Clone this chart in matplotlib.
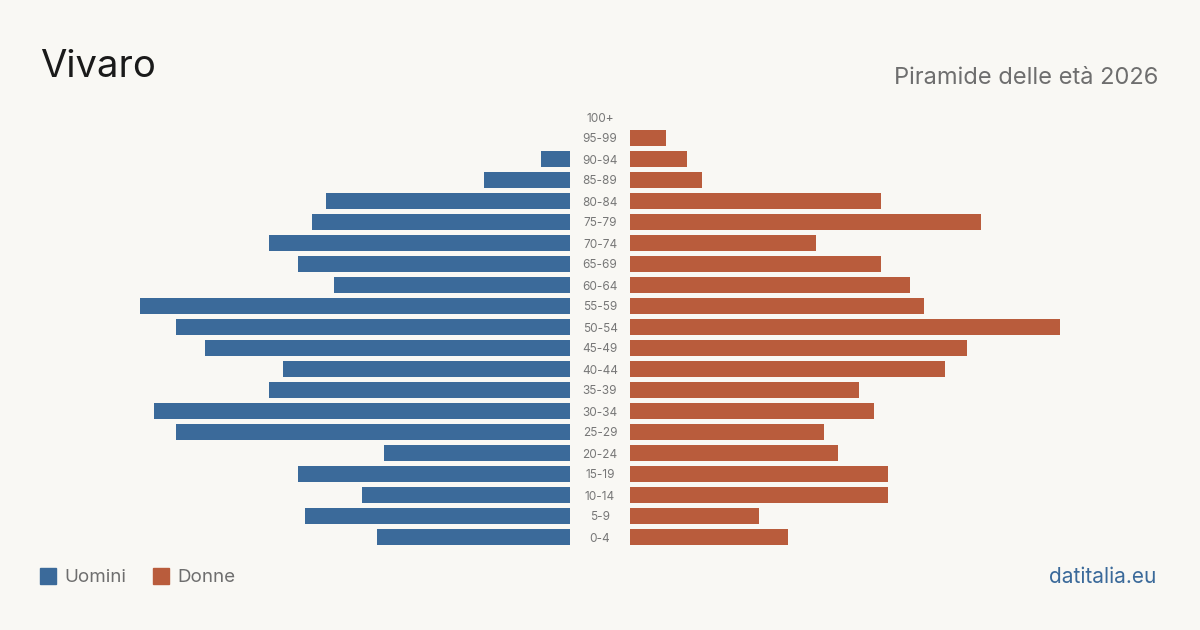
import matplotlib.pyplot as plt
import numpy as np

plt.rcParams['font.family'] = ['Inter', 'DejaVu Sans']

age_groups = ['0-4', '5-9', '10-14', '15-19', '20-24', '25-29', '30-34', '35-39',
              '40-44', '45-49', '50-54', '55-59', '60-64', '65-69', '70-74',
              '75-79', '80-84', '85-89', '90-94', '95-99', '100+']
men = [27, 37, 29, 38, 26, 55, 58, 42, 40, 51, 55, 60, 33, 38, 42, 36, 34, 12, 4, 0, 0]
women = [22, 18, 36, 36, 29, 27, 34, 32, 44, 47, 60, 41, 39, 35, 26, 49, 35, 10, 8, 5, 0]

bg = '#f9f8f4'
blue = '#3b6a9a'
orange = '#b95c3c'

fig = plt.figure(figsize=(12, 6.3), dpi=100, facecolor=bg)

bottom = 1 - 547.5 / 630
height = 0.7
ax_l = fig.add_axes([140 / 1200, bottom, 430 / 1200, height])
ax_r = fig.add_axes([630 / 1200, bottom, 430 / 1200, height])

xmax = max(max(men), max(women))
y = np.arange(len(age_groups))

ax_l.barh(y, men, height=0.8, color=blue)
ax_l.set_xlim(xmax, 0)
ax_r.barh(y, women, height=0.8, color=orange)
ax_r.set_xlim(0, xmax)

for ax in (ax_l, ax_r):
    ax.set_ylim(-0.5, len(age_groups) - 0.5)
    ax.set_facecolor('none')
    ax.axis('off')

for i, label in enumerate(age_groups):
    ax_l.annotate(label, xy=(0, i), xycoords='data', xytext=(30, -1.5),
                  textcoords='offset pixels', ha='center', va='center',
                  fontsize=8.5, color='#777777')

fig.text(40 / 1200, 1 - 67 / 630, 'Vivaro', fontsize=27.5, color='#1a1a1a',
         ha='left', va='center')
fig.text(1158 / 1200, 1 - 78 / 630, 'Piramide delle età 2026', fontsize=17,
         color='#6e6e6e', ha='right', va='center')

# legend
fig.patches.append(plt.Rectangle((40 / 1200, 1 - 584 / 630), 16 / 1200, 16 / 630,
                                 transform=fig.transFigure, color=blue))
fig.text(64 / 1200, 1 - 578 / 630, 'Uomini', fontsize=13.5, color='#6e6e6e',
         ha='left', va='center')
fig.patches.append(plt.Rectangle((153 / 1200, 1 - 584 / 630), 16 / 1200, 16 / 630,
                                 transform=fig.transFigure, color=orange))
fig.text(177 / 1200, 1 - 578 / 630, 'Donne', fontsize=13.5, color='#6e6e6e',
         ha='left', va='center')

fig.text(1156 / 1200, 1 - 577 / 630, 'datitalia.eu', fontsize=15, color=blue,
         ha='right', va='center')

fig.savefig('out.png', dpi=100, facecolor=bg)
